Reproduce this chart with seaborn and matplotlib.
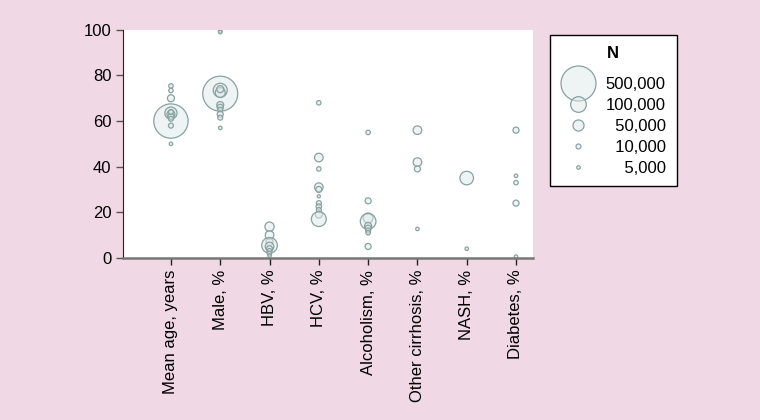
import pandas as pd
import numpy as np
import matplotlib.pyplot as plt
import seaborn as sns
from matplotlib.lines import Line2D
from matplotlib.colors import to_rgba

sns.set_style('ticks')
plt.rcParams['font.family'] = ['Liberation Sans', 'DejaVu Sans']
plt.rcParams['text.color'] = 'black'
plt.rcParams['xtick.labelcolor'] = 'black'
plt.rcParams['ytick.labelcolor'] = 'black'

## data
categories = ['Mean age, years', 'Male, %', 'HBV, %', 'HCV, %', 'Alcoholism, %',
              'Other cirrhosis, %', 'NASH, %', 'Diabetes, %']

age_vals = [60, 63.5, 63, 62, 61, 64, 58, 50, 75.4, 73.4, 70]
age_n = [480000, 60000, 25000, 15000, 10000, 10000, 10000, 5000, 8000, 8000, 20000]
male_vals = [99.5, 99, 72, 73.5, 72.5, 74, 67, 66, 65, 63, 61.5, 57]
male_n = [6000, 5000, 500000, 80000, 40000, 20000, 20000, 15000, 10000, 15000, 10000, 5000]
hbv_vals = [13.7, 10, 7, 5.5, 5, 4, 3, 2, 1]
hbv_n = [35000, 30000, 20000, 100000, 30000, 15000, 10000, 8000, 5000]
hcv_vals = [68, 44, 39, 31, 30, 27, 24, 22.5, 21, 19, 17]
hcv_n = [8000, 30000, 8000, 30000, 15000, 4000, 10000, 12000, 10000, 20000, 90000]
alc_vals = [55, 25, 17.5, 16, 14, 13, 12, 11, 5]
alc_n = [8000, 15000, 40000, 100000, 20000, 15000, 10000, 8000, 15000]
oth_vals = [56, 42, 39, 12.7]
oth_n = [30000, 30000, 15000, 5000]
nash_vals = [35, 4]
nash_n = [75000, 5000]
diab_vals = [56, 36, 33, 24, 0.5]
diab_n = [15000, 5000, 8000, 15000, 5000]

legend_n = [500000, 100000, 50000, 10000, 5000]
legend_labels = ['500,000', '100,000', '50,000', '10,000', '5,000']

all_vals = [age_vals, male_vals, hbv_vals, hcv_vals, alc_vals, oth_vals, nash_vals, diab_vals]
all_n = [age_n, male_n, hbv_n, hcv_n, alc_n, oth_n, nash_n, diab_n]

rows = []
for cat, vals, ns in zip(categories, all_vals, all_n):
    for v, n in zip(vals, ns):
        rows.append({'cat': cat, 'value': v, 'n': n})
df = pd.DataFrame(rows)

bg = '#f0d8e4'
face = to_rgba('#dfeaea', 0.5)
edge = '#8aa1a1'
s_max = 635  # marker area (pt^2) for N = 500,000

fig = plt.figure(figsize=(7.6, 4.2), dpi=100, facecolor=bg)
ax = fig.add_axes([0.162, 0.386, 0.539, 0.543])
ax.set_facecolor('white')

sns.scatterplot(data=df, x='cat', y='value', size='n', sizes=(0, s_max),
                size_norm=(0, 500000), color='#dfeaea', edgecolor=edge,
                linewidth=0.9, legend=False, ax=ax)
# light translucent fill, solid outline
pts = ax.collections[0]
pts.set_alpha(None)
pts.set_facecolor(face)
pts.set_edgecolor(edge)

ax.set_xlim(-0.97, 7.34)
ax.set_ylim(0, 100)
ax.set_yticks([0, 20, 40, 60, 80, 100])
ax.set_xticks(range(len(categories)))
ax.set_xticklabels(categories, rotation=90, fontsize=12)
ax.tick_params(axis='y', labelsize=12, length=5, width=1, color='#555555')
ax.tick_params(axis='x', length=5, width=1, color='#222222')
ax.set_xlabel('')
ax.set_ylabel('')
sns.despine(ax=ax)
ax.spines['left'].set_color('#222222')
ax.spines['bottom'].set_color('#777777')
ax.spines['bottom'].set_linewidth(1.8)

# legend for N (figure spaces keep the numbers right aligned)
fsp = '\u2007'
labels = [fsp * (7 - len(l)) + l for l in legend_labels]
handles = []
for n in legend_n:
    handles.append(Line2D([], [], linestyle='none', marker='o',
                          markersize=np.sqrt(s_max * n / 500000),
                          markerfacecolor=face, markeredgecolor=edge,
                          markeredgewidth=0.9))
leg = fig.legend(handles, labels, title='N', loc='upper left',
                 bbox_to_anchor=(0.7237, 0.9167), borderaxespad=0,
                 frameon=True, fancybox=False, framealpha=1,
                 facecolor='white', edgecolor='black', fontsize=12,
                 labelspacing=0.36, borderpad=0.65, handlelength=2.05,
                 handletextpad=0.65, alignment='center')
leg.get_title().set_fontweight('bold')
leg.get_title().set_fontsize(12)
leg.get_frame().set_linewidth(1)
leg._legend_box.sep = 11.4  # gap between "N" and the first entry

fig.savefig('out.png', dpi=100, facecolor=bg)
